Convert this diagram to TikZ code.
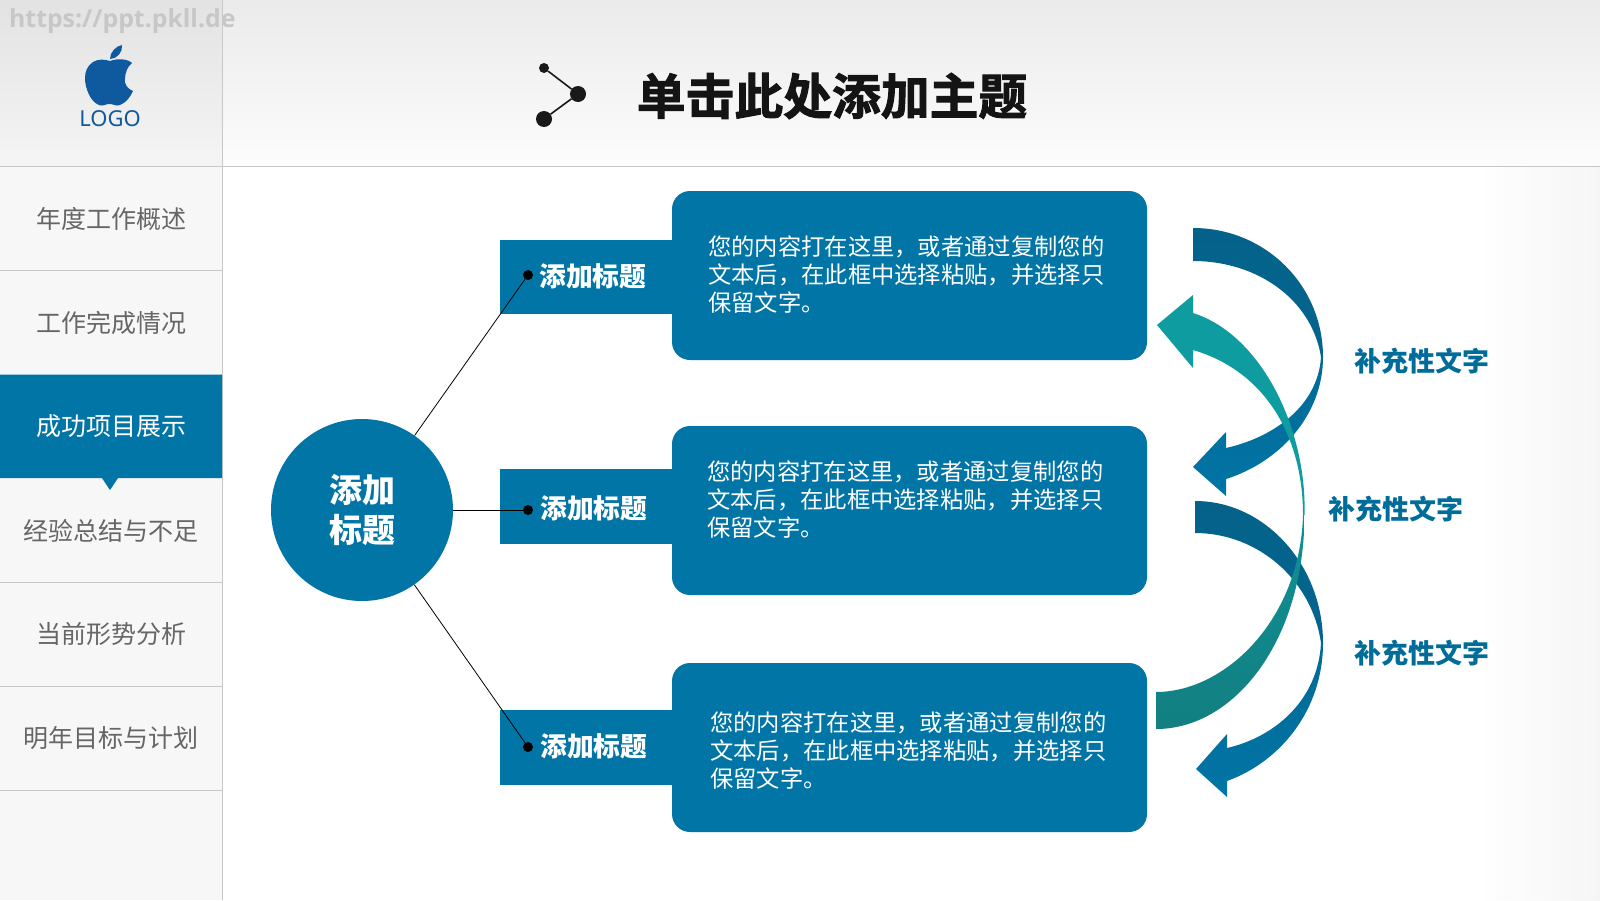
\documentclass[tikz,border=0pt]{standalone}
\usepackage{fontspec}
\setmainfont{Noto Sans CJK SC}
\newfontfamily\logofont{Noto Sans}
\newfontfamily\markfont{Open Sans}
\newfontfamily\heavyfont[FakeBold=2]{Noto Sans CJK SC Bold}
\usetikzlibrary{shapes.geometric}
\definecolor{mainblue}{HTML}{0075A6}
\definecolor{darkblue}{HTML}{04628A}
\definecolor{teal1}{HTML}{0E9CA0}
\definecolor{teal2}{HTML}{127F82}
\definecolor{logoblue}{HTML}{0F5A9E}
\definecolor{linegrey}{HTML}{C8C8C8}
\definecolor{navtext}{HTML}{666666}
\tikzset{
  navitem/.style={text=navtext,font=\fontsize{25}{25}\selectfont,anchor=center},
  bodybox/.style={fill=mainblue,rounded corners=18pt},
  tagbox/.style={fill=mainblue},
  tagtext/.style={text=white,font=\fontsize{26.8}{27}\selectfont\bfseries,anchor=west,inner sep=0pt},
  bodytext/.style={text=white,font=\fontsize{23.3}{28}\selectfont,anchor=north west,align=left,inner sep=0pt},
  sidetext/.style={text=mainblue!92!black,font=\fontsize{27}{27}\selectfont\bfseries,anchor=center,inner sep=0pt},
  dotnode/.style={circle,fill=black,inner sep=0pt,minimum size=10pt},
  conn/.style={draw=black,line width=.8pt},
  rule/.style={draw=linegrey,line width=1pt}
}
\begin{document}
\begin{tikzpicture}[x=1pt,y=-1pt]
\useasboundingbox (0,0) rectangle (1600,900);
% background
\fill[white] (0,0) rectangle (1600,900);
\shade[top color=black!8,bottom color=black!1] (0,0) rectangle (1600,166);
\fill[black,opacity=.03] (0,0) rectangle (222,900);
\shade[left color=white,right color=black!5,opacity=.7] (1480,166) rectangle (1600,900);
% rules
\draw[rule] (222,0) -- (222,900);
\draw[rule] (0,166) -- (1600,166);
\foreach \yy in {270.5,582,686,790}{\draw[rule] (0,\yy) -- (222,\yy);}
% watermark
\node[anchor=west,inner sep=0pt,text=black!22,font=\fontsize{24.8}{26}\selectfont\markfont\bfseries] (mark) at (9,21) {https://ppt.pkll.de};
% logo
\fill[logoblue] (110,61) .. controls (104,59) and (98,59) .. (93,62) .. controls (87,66) and (85,72) .. (85,78)
  .. controls (85,89) and (91,101) .. (97,104) .. controls (101,107) and (104,105) .. (108,104)
  .. controls (112,103) and (116,107) .. (120,105) .. controls (126,103) and (131,96) .. (133,91)
  .. controls (127,89) and (124,83) .. (125,79) .. controls (125,72) and (128,66) .. (132,63)
  .. controls (128,59) and (118,58) .. (110,61) -- cycle;
\fill[logoblue] (110,59) .. controls (110,52) and (116,46) .. (122,45) .. controls (123,52) and (117,59) .. (110,59) -- cycle;
\node[text=logoblue,font=\fontsize{22}{25}\selectfont\logofont,inner sep=0pt] (logo) at (110,119) {LOGO};
% title icon
\node[circle,fill=black!90,inner sep=0pt,minimum size=10pt] (ia) at (544,68) {};
\node[circle,fill=black!90,inner sep=0pt,minimum size=16pt] (ib) at (578,94) {};
\node[circle,fill=black!90,inner sep=0pt,minimum size=16pt] (ic) at (544,119) {};
\draw[black!90,line width=1.6pt] (ia) -- (ib) -- (ic);
\node[text=black!92,font=\fontsize{48.8}{49}\selectfont\heavyfont,inner sep=0pt] (title) at (832,96) {单击此处添加主题};
% nav
\fill[mainblue] (0,374.5) rectangle (222,478) (102,478) -- (110,490) -- (118,478) -- cycle;
\node[navitem] (n1) at (111,219) {年度工作概述};
\node[navitem] (n2) at (111,322.5) {工作完成情况};
\node[navitem,text=white] (n3) at (111,426.5) {成功项目展示};
\node[navitem] (n4) at (111,530.5) {经验总结与不足};
\node[navitem] (n5) at (111,634.5) {当前形势分析};
\node[navitem] (n6) at (111,738.5) {明年目标与计划};
% tags
\fill[tagbox] (500,240) rectangle (680,313.5);
\fill[tagbox] (500,469) rectangle (680,544);
\fill[tagbox] (500,710) rectangle (680,785);
% boxes
\fill[bodybox] (672,191) rectangle (1147,360);
\fill[bodybox] (672,426) rectangle (1147,595);
\fill[bodybox] (672,663) rectangle (1147,832);
\node[tagtext] (t1) at (539,276) {添加标题};
\node[tagtext] (t2) at (540,508.5) {添加标题};
\node[tagtext] (t3) at (540,746.5) {添加标题};
\node[bodytext] (b1) at (708,235.5) {您的内容打在这里，或者通过复制您的\\文本后，在此框中选择粘贴，并选择只\\保留文字。};
\node[bodytext] (b2) at (707,461) {您的内容打在这里，或者通过复制您的\\文本后，在此框中选择粘贴，并选择只\\保留文字。};
\node[bodytext] (b3) at (710,711.5) {您的内容打在这里，或者通过复制您的\\文本后，在此框中选择粘贴，并选择只\\保留文字。};
% hub
\node[circle,fill=mainblue,minimum size=182pt,inner sep=0pt,text=white,align=center,font=\fontsize{33}{40}\selectfont\bfseries] (hub) at (362,510) {添加\\标题};
\node[dotnode] (d1) at (528,275) {};
\node[dotnode] (d2) at (528,510) {};
\node[dotnode] (d3) at (528,747) {};
\draw[conn] (hub) -- (d1);
\draw[conn] (hub) -- (d2);
\draw[conn] (hub) -- (d3);
% arrow 1
\shade[top color=darkblue,bottom color=darkblue!85!mainblue] (1193,228) .. controls (1265,228) and (1323,285) .. (1323,357)
  -- (1321,357) .. controls (1312,300) and (1258,261) .. (1193,261) -- cycle;
\shade[top color=darkblue!60!mainblue,bottom color=mainblue] (1323,357) .. controls (1323,415) and (1280,462) .. (1226,479)
  -- (1226,496) -- (1193,467) -- (1226,432) -- (1226,448)
  .. controls (1275,437) and (1318,405) .. (1321,357) -- cycle;
% arrow 3
\shade[top color=darkblue,bottom color=darkblue!85!mainblue] (1195,501) .. controls (1265,501) and (1323,565) .. (1323,643)
  -- (1321,643) .. controls (1312,580) and (1258,533) .. (1195,533) -- cycle;
\shade[top color=darkblue!60!mainblue,bottom color=mainblue] (1323,643) .. controls (1323,710) and (1280,762) .. (1227,781)
  -- (1227,797) -- (1196,769) -- (1227,734) -- (1227,748)
  .. controls (1275,737) and (1318,700) .. (1321,643) -- cycle;
% teal arrow
\fill[teal1] (1157,325) -- (1193,295) -- (1193,313)
  .. controls (1262,335) and (1307,430) .. (1304.5,515)
  -- (1303,515) .. controls (1303,440) and (1268,372) .. (1193,350)
  -- (1193,368) -- cycle;
\shade[top color=teal1!60!teal2,bottom color=teal2] (1304.5,515) .. controls (1304,640) and (1235,729) .. (1156,729)
  -- (1156,692) .. controls (1225,692) and (1300,620) .. (1303,515) -- cycle;
% side labels
\node[sidetext] (s1) at (1422,361) {补充性文字};
\node[sidetext] (s2) at (1396,509) {补充性文字};
\node[sidetext] (s3) at (1422,653) {补充性文字};
\end{tikzpicture}
\end{document}
